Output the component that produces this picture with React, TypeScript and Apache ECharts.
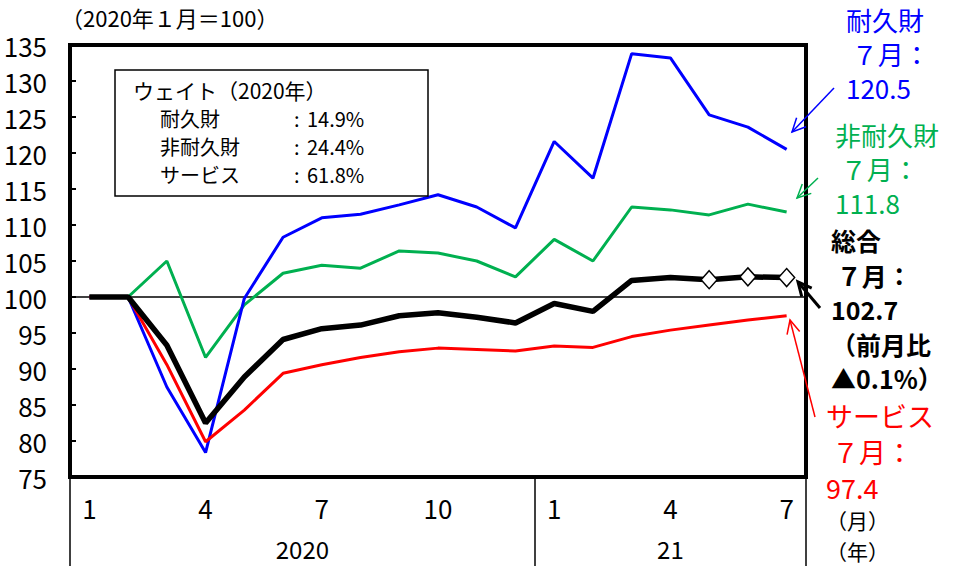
import React, { useEffect, useRef } from "react";
import * as echarts from "echarts";

const categories = [
  "2020-01", "2020-02", "2020-03", "2020-04", "2020-05", "2020-06", "2020-07",
  "2020-08", "2020-09", "2020-10", "2020-11", "2020-12", "2021-01", "2021-02",
  "2021-03", "2021-04", "2021-05", "2021-06", "2021-07",
];
const monthTickLabels = ["1", "", "", "4", "", "", "7", "", "", "10", "", "", "1", "", "", "4", "", "", "7"];
const yearLabels = ["2020", "21"];

const durables = [100, 100, 87.5, 78.4, 99.8, 108.3, 111.0, 111.5, 112.8, 114.2, 112.5, 109.6, 121.6, 116.5, 133.8, 133.2, 125.3, 123.6, 120.5];
const nondurables = [100, 100, 105.0, 91.6, 98.9, 103.3, 104.4, 104.0, 106.4, 106.1, 105.0, 102.8, 108.0, 105.0, 112.5, 112.1, 111.4, 112.9, 111.8];
const services = [100, 100, 90.6, 79.9, 84.3, 89.4, 90.6, 91.6, 92.4, 92.9, 92.7, 92.5, 93.2, 93.0, 94.5, 95.4, 96.1, 96.8, 97.4];
const total = [100, 100, 93.3, 82.5, 88.9, 94.1, 95.6, 96.1, 97.4, 97.8, 97.2, 96.4, 99.1, 98.0, 102.3, 102.7, 102.4, 102.8, 102.7];
const diamondIdx = [16, 17, 18];

const weightTitle = "ウェイト（2020年）";
const weightNames = ["耐久財", "非耐久財", "サービス"];
const weightValues = ["14.9%", "24.4%", "61.8%"];

const JP = "'Noto Sans CJK JP', sans-serif";
const NUM = "'Liberation Sans Narrow', 'Noto Sans CJK JP', sans-serif";

function arrow(x1: number, y1: number, x2: number, y2: number, color: string, w: number) {
  const ang = Math.atan2(y1 - y2, x1 - x2);
  const L = 15;
  const a = 0.45;
  const p1 = [x2 + L * Math.cos(ang + a), y2 + L * Math.sin(ang + a)];
  const p2 = [x2 + L * Math.cos(ang - a), y2 + L * Math.sin(ang - a)];
  return [
    { type: "line", shape: { x1, y1, x2, y2 }, style: { stroke: color, lineWidth: w }, z: 100 },
    { type: "polyline", shape: { points: [p1, [x2, y2], p2] }, style: { stroke: color, lineWidth: w, fill: null }, z: 100 },
  ];
}

function texts(lines: string[], x: number, y0: number, dy: number, color: string, size: number, bold = false) {
  return lines.map((t, i) => ({
    type: "text",
    left: x,
    top: y0 + i * dy - size / 2 - 1,
    style: { text: t, fill: color, font: `${bold ? "bold " : ""}${size}px ${JP}`, lineHeight: size },
    z: 100,
  }));
}

export default function App() {
  const ref = useRef<HTMLDivElement>(null);
  useEffect(() => {
    const chart = echarts.init(ref.current!, null, { renderer: "svg" });
    const lineBase = { type: "line", symbol: "none", smooth: false, xAxisIndex: 0, yAxisIndex: 0 };
    const wf = `20px ${JP}`;
    const weightRows: any[] = [];
    weightNames.forEach((n, i) => {
      const y = 118 + i * 28;
      const base = { type: "text", top: y - 10, z: 100 };
      weightRows.push({ ...base, left: 160, style: { text: n, fill: "#000", font: wf, lineHeight: 20 } });
      weightRows.push({ ...base, left: 294, style: { text: ":", fill: "#000", font: wf, lineHeight: 20 } });
      weightRows.push({ ...base, left: 307, style: { text: weightValues[i], fill: "#000", font: wf, lineHeight: 20 } });
    });
    chart.setOption({
      animation: false,
      backgroundColor: "#fff",
      grid: { left: 70, right: 149, top: 45, bottom: 89, show: true, borderColor: "#000", borderWidth: 4, containLabel: false },
      xAxis: [
        {
          type: "category",
          data: categories,
          boundaryGap: true,
          position: "bottom",
          axisLine: { show: false },
          axisTick: { show: false },
          axisLabel: {
            interval: 0,
            margin: 17,
            color: "#000",
            fontSize: 26,
            fontFamily: NUM,
            formatter: (_v: string, i: number) => monthTickLabels[i],
          },
        },
        {
          type: "value",
          min: -0.5,
          max: categories.length - 0.5,
          position: "bottom",
          axisLine: { show: false },
          splitLine: { show: false },
          axisTick: { show: true, customValues: [-0.5, 11.5, 18.5], length: 92, lineStyle: { color: "#000", width: 1.5 } },
          axisLabel: {
            customValues: [5.5, 15],
            margin: 59,
            color: "#000",
            fontSize: 24,
            lineHeight: 24,
            fontFamily: NUM,
            formatter: (v: number) => (v < 11.5 ? yearLabels[0] : yearLabels[1]),
          },
        },
      ],
      yAxis: {
        type: "value",
        min: 75,
        max: 135,
        interval: 5,
        axisLine: { show: true, onZero: false, lineStyle: { color: "#000", width: 4 } },
        axisTick: { show: true, inside: true, length: 6, lineStyle: { color: "#000", width: 2 } },
        splitLine: { show: false },
        axisLabel: { color: "#000", fontSize: 26, fontFamily: NUM, margin: 23 },
      },
      series: [
        { ...lineBase, name: "非耐久財", data: nondurables, lineStyle: { color: "#00B050", width: 3 }, itemStyle: { color: "#00B050" } },
        { ...lineBase, name: "耐久財", data: durables, lineStyle: { color: "#0000FF", width: 3 }, itemStyle: { color: "#0000FF" } },
        { ...lineBase, name: "サービス", data: services, lineStyle: { color: "#FF0000", width: 3 }, itemStyle: { color: "#FF0000" } },
        {
          ...lineBase,
          name: "総合",
          data: total.map((v, i) =>
            diamondIdx.includes(i)
              ? { value: v, symbol: "diamond", symbolSize: [16, 18], itemStyle: { color: "#fff", borderColor: "#000", borderWidth: 1.5 } }
              : v
          ),
          showSymbol: true,
          lineStyle: { color: "#000", width: 5.5 },
          itemStyle: { color: "#000" },
          markLine: {
            silent: true,
            symbol: "none",
            label: { show: false },
            lineStyle: { color: "#000", width: 1.5, type: "solid" },
            data: [{ yAxis: 100 }],
            z: 1,
          },
        },
      ],
      graphic: [
        { type: "text", left: 61, top: 6, style: { text: "（2020年１月＝100）", fill: "#000", font: `22px ${JP}` }, z: 100 },
        { type: "rect", shape: { x: 115, y: 70, width: 313, height: 126 }, style: { fill: "#fff", stroke: "#000", lineWidth: 1.5 }, z: 90 },
        { type: "text", left: 133, top: 79, style: { text: weightTitle, fill: "#000", font: `21px ${JP}`, lineHeight: 21 }, z: 100 },
        ...weightRows,
        ...texts(["耐久財", " ７月：", "120.5"], 846, 20, 34, "#0000FF", 26),
        ...texts(["非耐久財", " ７月：", "111.8"], 835, 135, 34, "#00B050", 26),
        ...texts(["総合", " ７月：", "102.7", "（前月比", "▲0.1%）"], 831, 241, 34.5, "#000", 25, true),
        ...texts(["サービス", " ７月：", "97.4"], 826, 416, 36, "#FF0000", 27),
        ...texts(["（月）", "（年）"], 826, 521, 31, "#000", 21),
        ...arrow(834, 88, 792, 132, "#0000FF", 1.5),
        ...arrow(818, 178, 797, 198, "#00B050", 1.5),
        ...arrow(820, 308, 798, 282, "#000", 3),
        ...arrow(815, 417, 790, 320, "#FF0000", 1.5),
      ],
    });
    return () => chart.dispose();
  }, []);
  return <div ref={ref} style={{ width: 955, height: 566, position: "absolute", left: 0, top: 0 }} />;
}
